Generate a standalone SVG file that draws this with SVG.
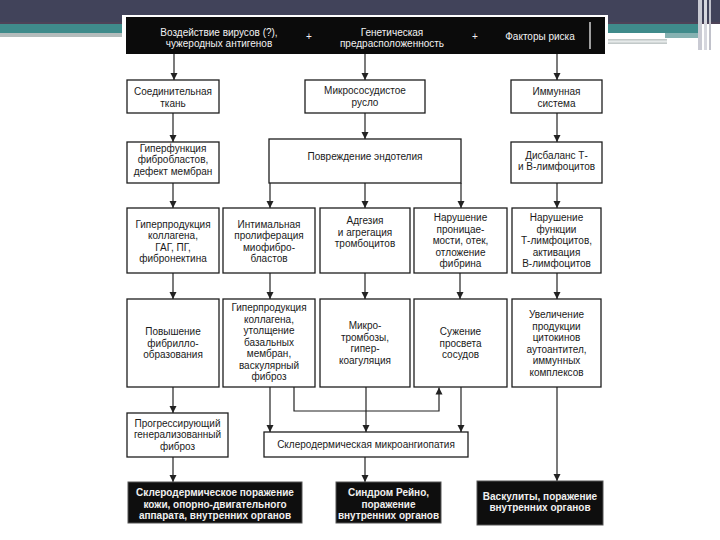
<svg xmlns="http://www.w3.org/2000/svg" width="720" height="540" viewBox="0 0 720 540">
<defs>
<style>
.bx{fill:#fff;stroke:#1e1e1e;stroke-width:1.3}
.dk{fill:#0e0e0e;stroke:#555;stroke-width:1}
.t{font-family:"Liberation Sans",Arial,sans-serif;font-size:10px;fill:#1a1a1a;text-anchor:middle}
.w{font-family:"Liberation Sans",Arial,sans-serif;font-size:10px;fill:#f2f2f2;text-anchor:middle}
.wb{font-family:"Liberation Sans",Arial,sans-serif;font-size:10px;font-weight:bold;fill:#f0f0f0;text-anchor:middle}
.c{fill:none;stroke:#222;stroke-width:1.2}
</style>
<marker id="ah" markerWidth="7" markerHeight="8" refX="7" refY="4" orient="auto" markerUnits="userSpaceOnUse"><path d="M0,0.5 L7,4 L0,7.5 z" fill="#222"/></marker>
</defs>
<g id="slide-bg">
<rect x="0" y="0" width="720" height="540" fill="#fff"/>
<rect x="0" y="0" width="720" height="22" fill="#41435a"/>
<rect x="0" y="22" width="720" height="2" fill="#4e4358"/>
<rect x="0" y="24" width="698" height="9" fill="#3f8b8b"/>
<rect x="0" y="33" width="123" height="4" fill="#b4bcbc"/>
<rect x="665" y="33" width="33" height="5" fill="#86b2b2"/>
<rect x="607" y="39" width="60" height="5" fill="#c2c9c9"/>
<rect x="607" y="40.5" width="60" height="2" fill="#e6eaea"/>
<rect x="698" y="0" width="4" height="50" fill="#c9cad3"/>
<rect x="704" y="0" width="3" height="50" fill="#d6d7de"/>
<rect x="709" y="0" width="2" height="50" fill="#c0c1ca"/>
<rect x="122" y="15" width="486" height="525" fill="#fff"/>
</g>
<g id="header">
<rect x="126" y="17" width="479" height="37" fill="#0b0b0b"/>
<text class="w"><tspan x="219" y="35.5">Воздействие вирусов (?),</tspan><tspan x="219" y="47">чужеродных антигенов</tspan></text>
<text class="w" x="309" y="40">+</text>
<text class="w"><tspan x="392" y="35.5">Генетическая</tspan><tspan x="392" y="47">предрасположенность</tspan></text>
<text class="w" x="475" y="40">+</text>
<text class="w" x="540" y="40">Факторы риска</text>
<line x1="590" y1="22" x2="590" y2="49" stroke="#f2f2f2" stroke-width="1.3"/>
</g>
<g id="connectors">
<path class="c" d="M174,54 V80" marker-end="url(#ah)"/>
<path class="c" d="M365,54 V80" marker-end="url(#ah)"/>
<path class="c" d="M557,54 V80" marker-end="url(#ah)"/>
<path class="c" d="M173,113 V142" marker-end="url(#ah)"/>
<path class="c" d="M365,113 V139" marker-end="url(#ah)"/>
<path class="c" d="M557,113 V142" marker-end="url(#ah)"/>
<path class="c" d="M173,183 V208" marker-end="url(#ah)"/>
<path class="c" d="M270,183 V208" marker-end="url(#ah)"/>
<path class="c" d="M365,183 V208" marker-end="url(#ah)"/>
<path class="c" d="M461,183 V208" marker-end="url(#ah)"/>
<path class="c" d="M557,183 V208" marker-end="url(#ah)"/>
<path class="c" d="M173,273 V299" marker-end="url(#ah)"/>
<path class="c" d="M270,273 V299" marker-end="url(#ah)"/>
<path class="c" d="M365,273 V299" marker-end="url(#ah)"/>
<path class="c" d="M460,273 V299" marker-end="url(#ah)"/>
<path class="c" d="M557,273 V299" marker-end="url(#ah)"/>
<path class="c" d="M173,387 V413" marker-end="url(#ah)"/>
<path class="c" d="M270,387 V432" marker-end="url(#ah)"/>
<path class="c" d="M294,387 V411 H439 V387.5" marker-end="url(#ah)"/>
<path class="c" d="M366,387 V432" marker-end="url(#ah)"/>
<path class="c" d="M461,387 V432" marker-end="url(#ah)"/>
<path class="c" d="M557,387 V481" marker-end="url(#ah)"/>
<path class="c" d="M173,457 V482" marker-end="url(#ah)"/>
<path class="c" d="M365,457 V482" marker-end="url(#ah)"/>
</g>
<g id="n-a1"><rect class="bx" x="127" y="80" width="92" height="33"/><text class="t"><tspan x="173" y="95">Соединительная</tspan><tspan x="173" y="106.5">ткань</tspan></text></g>
<g id="n-b1"><rect class="bx" x="305" y="80" width="120" height="33"/><text class="t"><tspan x="365" y="94">Микрососудистое</tspan><tspan x="365" y="105.5">русло</tspan></text></g>
<g id="n-c1"><rect class="bx" x="511" y="80" width="91" height="33"/><text class="t"><tspan x="556.5" y="95">Иммунная</tspan><tspan x="556.5" y="106.5">система</tspan></text></g>
<g id="n-a2"><rect class="bx" x="127" y="142" width="92" height="41"/><text class="t"><tspan x="173" y="151.5">Гиперфункция</tspan><tspan x="173" y="163">фибробластов,</tspan><tspan x="173" y="174.5">дефект мембран</tspan></text></g>
<g id="n-b2"><rect class="bx" x="269" y="139" width="192" height="44"/><text class="t" x="365" y="160">Повреждение эндотелия</text></g>
<g id="n-c2"><rect class="bx" x="511" y="142" width="91" height="41"/><text class="t"><tspan x="556.5" y="158.5">Дисбаланс Т-</tspan><tspan x="556.5" y="170">и В-лимфоцитов</tspan></text></g>
<g id="n-a3"><rect class="bx" x="127" y="208" width="92" height="65"/><text class="t"><tspan x="173" y="227.5">Гиперпродукция</tspan><tspan x="173" y="239">коллагена,</tspan><tspan x="173" y="250.5">ГАГ, ПГ,</tspan><tspan x="173" y="262">фибронектина</tspan></text></g>
<g id="n-b3"><rect class="bx" x="223" y="208" width="92" height="65"/><text class="t"><tspan x="269" y="227.5">Интимальная</tspan><tspan x="269" y="239">пролиферация</tspan><tspan x="269" y="250.5">миофибро-</tspan><tspan x="269" y="262">бластов</tspan></text></g>
<g id="n-c3"><rect class="bx" x="320" y="208" width="90" height="65"/><text class="t"><tspan x="365" y="224">Адгезия</tspan><tspan x="365" y="235.5">и агрегация</tspan><tspan x="365" y="247">тромбоцитов</tspan></text></g>
<g id="n-d3"><rect class="bx" x="414" y="208" width="93" height="65"/><text class="t"><tspan x="460.5" y="221">Нарушение</tspan><tspan x="460.5" y="232.5">проницае-</tspan><tspan x="460.5" y="244">мости, отек,</tspan><tspan x="460.5" y="255.5">отложение</tspan><tspan x="460.5" y="267">фибрина</tspan></text></g>
<g id="n-e3"><rect class="bx" x="512" y="208" width="89" height="65"/><text class="t"><tspan x="556.5" y="221">Нарушение</tspan><tspan x="556.5" y="232.5">функции</tspan><tspan x="556.5" y="244">Т-лимфоцитов,</tspan><tspan x="556.5" y="255.5">активация</tspan><tspan x="556.5" y="267">В-лимфоцитов</tspan></text></g>
<g id="n-a4"><rect class="bx" x="127" y="299" width="92" height="88"/><text class="t"><tspan x="173" y="335">Повышение</tspan><tspan x="173" y="346.5">фибрилло-</tspan><tspan x="173" y="358">образования</tspan></text></g>
<g id="n-b4"><rect class="bx" x="223" y="299" width="92" height="88"/><text class="t"><tspan x="269" y="311">Гиперпродукция</tspan><tspan x="269" y="322.5">коллагена,</tspan><tspan x="269" y="334">утолщение</tspan><tspan x="269" y="345.5">базальных</tspan><tspan x="269" y="357">мембран,</tspan><tspan x="269" y="368.5">васкулярный</tspan><tspan x="269" y="380">фиброз</tspan></text></g>
<g id="n-c4"><rect class="bx" x="320" y="299" width="90" height="88"/><text class="t"><tspan x="365" y="329">Микро-</tspan><tspan x="365" y="340.5">тромбозы,</tspan><tspan x="365" y="352">гипер-</tspan><tspan x="365" y="363.5">коагуляция</tspan></text></g>
<g id="n-d4"><rect class="bx" x="414" y="299" width="93" height="88"/><text class="t"><tspan x="460.5" y="335">Сужение</tspan><tspan x="460.5" y="346.5">просвета</tspan><tspan x="460.5" y="358">сосудов</tspan></text></g>
<g id="n-e4"><rect class="bx" x="512" y="299" width="89" height="88"/><text class="t"><tspan x="556.5" y="318">Увеличение</tspan><tspan x="556.5" y="329.5">продукции</tspan><tspan x="556.5" y="341">цитокинов</tspan><tspan x="556.5" y="352.5">аутоантител,</tspan><tspan x="556.5" y="364">иммунных</tspan><tspan x="556.5" y="375.5">комплексов</tspan></text></g>
<g id="n-a5"><rect class="bx" x="127" y="413" width="101" height="44"/><text class="t"><tspan x="177.5" y="426.5">Прогрессирующий</tspan><tspan x="177.5" y="438">генерализованный</tspan><tspan x="177.5" y="449.5">фиброз</tspan></text></g>
<g id="n-micro"><rect class="bx" x="264" y="432" width="204" height="25"/><text class="t" x="366" y="447.5">Склеродермическая микроангиопатия</text></g>
<g id="n-out1"><rect class="dk" x="128" y="482" width="174" height="41"/><text class="wb"><tspan x="215" y="496">Склеродермическое поражение</tspan><tspan x="215" y="507.5">кожи, опорно-двигательного</tspan><tspan x="215" y="519">аппарата, внутренних органов</tspan></text></g>
<g id="n-out2"><rect class="dk" x="336" y="482" width="105" height="41"/><text class="wb"><tspan x="388.5" y="496">Синдром Рейно,</tspan><tspan x="388.5" y="507.5">поражение</tspan><tspan x="388.5" y="519">внутренних органов</tspan></text></g>
<g id="n-out3"><rect class="dk" x="477" y="481" width="126" height="44"/><text class="wb"><tspan x="540" y="499.5">Васкулиты, поражение</tspan><tspan x="540" y="511">внутренних органов</tspan></text></g>
</svg>
